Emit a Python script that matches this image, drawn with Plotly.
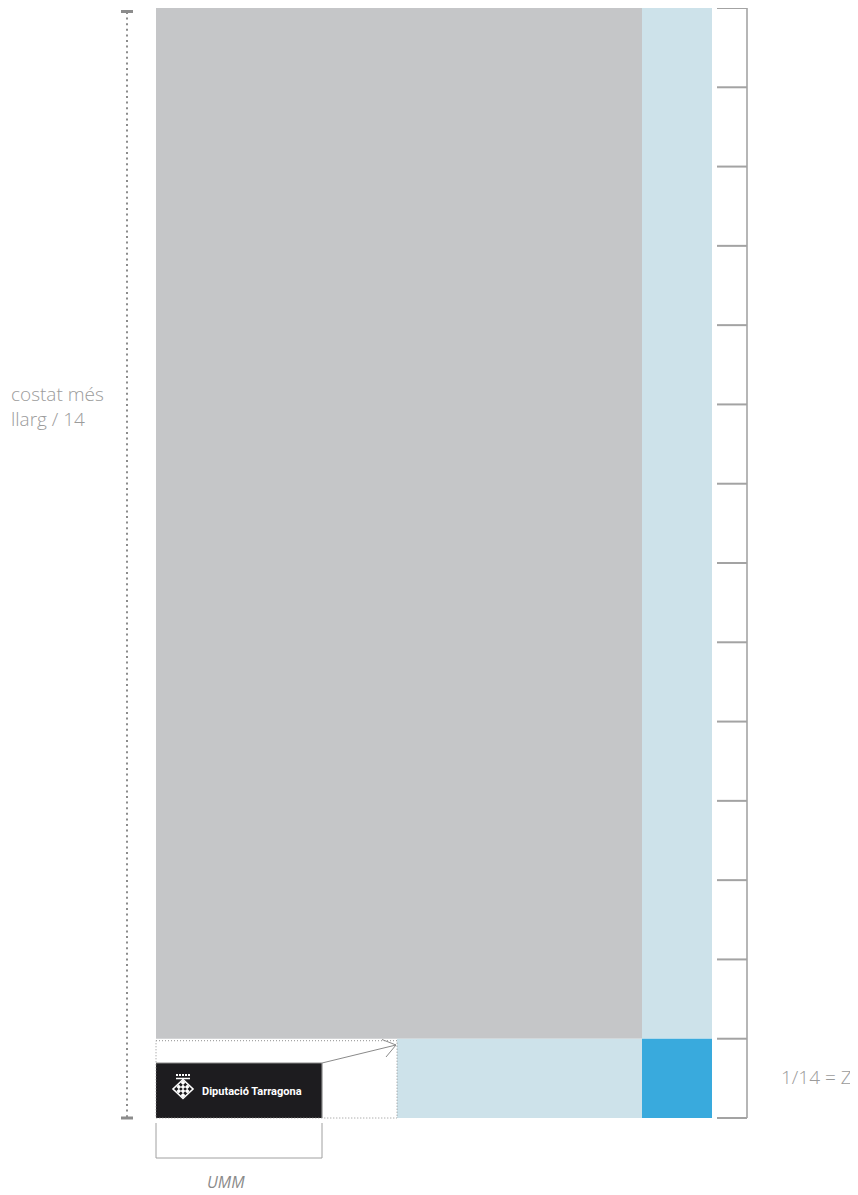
import plotly.graph_objects as go

# ---- data -------------------------------------------------------------
n_units = 14                                  # the longest side is split in 14
ruler_units = list(range(n_units + 1))        # tick marks of the right ruler
zone_units = [13, 1]                          # vertical share of main area / base band
left_label = "costat més<br>llarg / 14"
right_label = "1/14 = Z"
bottom_label = "UMM"
logo_text = "Diputació Tarragona"

# ---- layout constants (pixels on the 858x1195 page) ------------------
W, H = 858, 1195
OFF = 8                                        # page body margin
TOP, BOT = 8, 1118
U = (BOT - TOP) / n_units
def uy(k):
    return TOP + k * U

X_L, X_GR, X_COL, X_LOGO, X_DOT = 156, 642, 712, 322, 397
GRAY, LBLUE, BLUE, BLACK = "#c5c6c8", "#cde2ea", "#39aadd", "#1d1c1f"
LINE = "#9a9a9a"
TXT = "#9b9b9b"

fig = go.Figure()
shapes = []

def rect(x0, y0, x1, y1, color):
    shapes.append(dict(type="rect", xref="x", yref="y", x0=x0, y0=y0, x1=x1, y1=y1,
                       fillcolor=color, line=dict(width=0), layer="below"))

def seg(x0, y0, x1, y1, color=LINE, width=1, dash=None):
    d = dict(type="line", xref="x", yref="y", x0=x0, y0=y0, x1=x1, y1=y1,
             line=dict(color=color, width=width))
    if dash:
        d["line"]["dash"] = dash
    shapes.append(d)

y_split = uy(zone_units[0])
# main areas
rect(X_L, TOP - 1, X_GR, y_split, GRAY)
rect(X_GR, TOP - 1, X_COL, y_split, LBLUE)
rect(X_DOT, y_split, X_GR, BOT, LBLUE)
rect(X_GR, y_split, X_COL, BOT, BLUE)

# dotted logo zone
shapes.append(dict(type="rect", xref="x", yref="y", x0=X_L, y0=y_split + 2,
                   x1=X_DOT, y1=BOT, fillcolor="rgba(0,0,0,0)",
                   line=dict(color="#8f8f8f", width=1, dash="1px,2px")))
# black logo box
rect(X_L, 1063, X_LOGO, BOT, BLACK)
seg(X_L, 1063, X_LOGO, 1063, "#8a8a8a", 1.2)
seg(X_LOGO, 1063, X_LOGO, BOT, "#8a8a8a", 1.2)

# arrow (open head)
seg(X_LOGO, 1063, X_DOT - 1, 1045, "#8a8a8a", 1)
shapes.append(dict(type="path", xref="x", yref="y",
                   path=f"M 382,1039.5 L {X_DOT-1},1045 L 386,1057",
                   line=dict(color="#8a8a8a", width=1)))

# right ruler
seg(747, TOP, 747, BOT, "#8f8f8f", 1.3)
for k in ruler_units:
    seg(717, uy(k), 747, uy(k), "#a3a3a3", 2)

# left dotted dimension line
seg(127, 12, 127, BOT, "#8c8c8c", 2, "2px,3.6px")
seg(121, 11.5, 133, 11.5, "#8c8c8c", 3)
seg(121, BOT, 133, BOT, "#8c8c8c", 3)

# UMM bracket
seg(X_L, 1123, X_L, 1158, "#a0a0a0", 1)
seg(X_LOGO, 1123, X_LOGO, 1158, "#a0a0a0", 1)
seg(X_L, 1158, X_LOGO, 1158, "#a0a0a0", 1)

# logo emblem: outer diamond + checker
cx, cy = 183, 1089
shapes.append(dict(type="path", xref="x", yref="y",
                   path=f"M {cx},{cy-9.5} L {cx+10},{cy} L {cx},{cy+9.5} L {cx-10},{cy} Z",
                   line=dict(color="white", width=1.6)))
seg(cx - 7, 1078.5, cx + 7, 1078.5, "white", 1.5)

chk_x, chk_y = [], []
for i in range(4):
    for j in range(4):
        if (i + j) % 2 == 0:
            chk_x.append(cx + (i - j) * 2.1)
            chk_y.append(cy - 6.3 + (i + j) * 2.1)
fig.add_trace(go.Scatter(x=chk_x, y=chk_y, mode="markers", hoverinfo="skip",
                         marker=dict(symbol="diamond", size=3.6, color="white",
                                     line=dict(width=0)), showlegend=False))
crown_x = [cx - 6, cx - 3, cx, cx + 3, cx + 6]
fig.add_trace(go.Scatter(x=crown_x, y=[1075] * 5, mode="markers", hoverinfo="skip",
                         marker=dict(symbol="square", size=2, color="white",
                                     line=dict(width=0)), showlegend=False))

annotations = [
    dict(x=200, y=1091, text=f"<b>{logo_text}</b>", xanchor="left", yanchor="middle",
         showarrow=False, font=dict(family="Roboto", size=11, color="white")),
    dict(x=9, y=406, text=left_label, xanchor="left", yanchor="middle", align="left",
         showarrow=False, font=dict(family="Open Sans", size=19, color=TXT, weight=300)),
    dict(x=779, y=1077, text=right_label, xanchor="left", yanchor="middle",
         showarrow=False, font=dict(family="Open Sans", size=19, color=TXT, weight=300)),
    dict(x=226, y=1182, text=f"<i>{bottom_label}</i>", xanchor="center", yanchor="middle",
         showarrow=False, font=dict(family="Open Sans", size=16, color="#8a8a8a")),
]

fig.update_layout(
    width=W - OFF, height=H - OFF, margin=dict(l=0, r=0, t=0, b=0),
    paper_bgcolor="white", plot_bgcolor="white",
    xaxis=dict(range=[OFF, W], visible=False, fixedrange=True),
    yaxis=dict(range=[H, OFF], visible=False, fixedrange=True),
    shapes=shapes, annotations=annotations, showlegend=False,
)
fig.write_html("out.html")
